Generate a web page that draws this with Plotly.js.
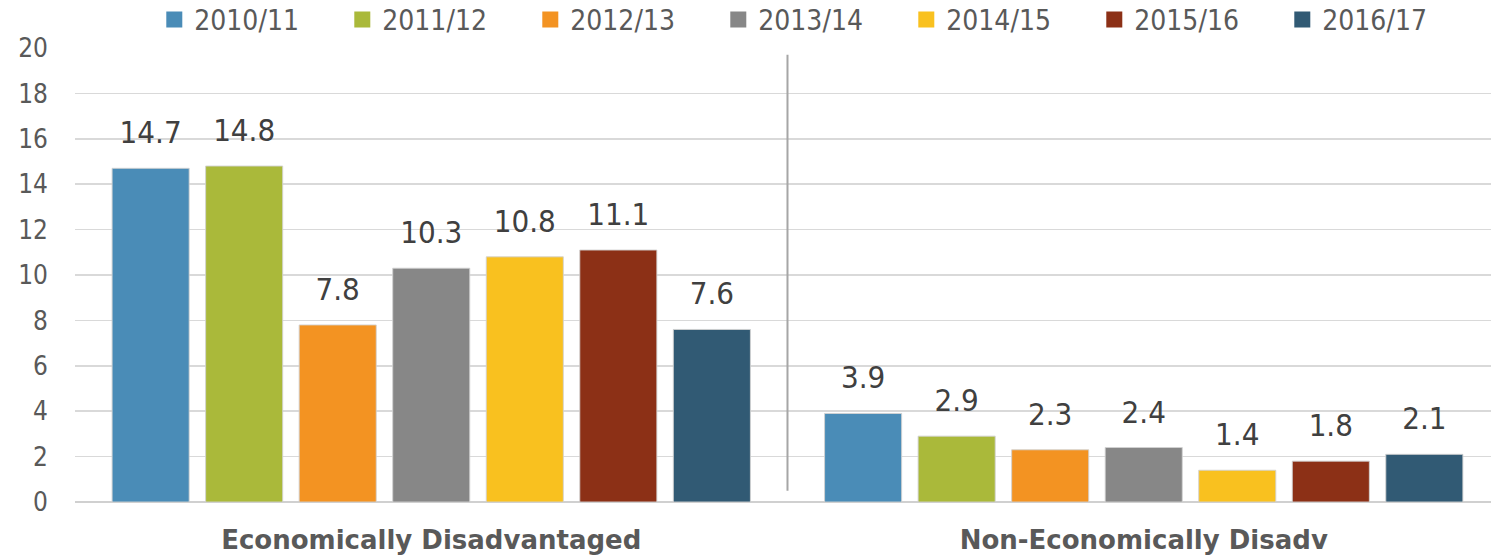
<!DOCTYPE html>
<html>
<head>
<meta charset="utf-8">
<script src="https://cdn.plot.ly/plotly-3.0.1.min.js"></script>
<style>html,body{margin:0;padding:0;background:#fff;}#chart{width:1491px;height:559px;}</style>
</head>
<body>
<div id="chart"></div>
<script>
const categories = ["Economically Disadvantaged", "Non-Economically Disadv"];
const seriesNames = ["2010/11", "2011/12", "2012/13", "2013/14", "2014/15", "2015/16", "2016/17"];
const v2010 = [14.7, 3.9];
const v2011 = [14.8, 2.9];
const v2012 = [7.8, 2.3];
const v2013 = [10.3, 2.4];
const v2014 = [10.8, 1.4];
const v2015 = [11.1, 1.8];
const v2016 = [7.6, 2.1];
const seriesValues = [v2010, v2011, v2012, v2013, v2014, v2015, v2016];
const colors = ["#4a8cb7", "#aab93a", "#f39322", "#878787", "#f9c11f", "#8c3016", "#315a74"];
const yTicks = [0, 2, 4, 6, 8, 10, 12, 14, 16, 18, 20];

const labelFont = "DejaVu Sans Condensed, DejaVu Sans, sans-serif";
const traces = [];
seriesNames.forEach((name, i) => {
  traces.push({
    type: "bar", x: categories, y: seriesValues[i], name: name,
    marker: {color: colors[i], line: {color: "rgba(210,210,210,0.9)", width: 1}},
    showlegend: false, hoverinfo: "skip", offsetgroup: "g" + i
  });
});
seriesNames.forEach((name, i) => {
  traces.push({
    type: "scatter", mode: "markers+text", x: categories, y: seriesValues[i],
    text: seriesValues[i].map(v => v.toFixed(1)), textposition: "top center",
    textfont: {family: labelFont, size: 31, color: "#404040"},
    marker: {size: 26, opacity: 0, color: colors[i]},
    showlegend: false, hoverinfo: "skip", cliponaxis: false, offsetgroup: "g" + i
  });
});
seriesNames.forEach((name, i) => {
  traces.push({
    type: "scatter", mode: "markers", x: [null], y: [null], name: name,
    marker: {symbol: "square", size: 16, color: colors[i]},
    showlegend: true, hoverinfo: "skip", offsetgroup: "g" + i
  });
});

const layout = {
  width: 1491, height: 559,
  margin: {l: 75, r: 0, t: 48, b: 57, autoexpand: false},
  paper_bgcolor: "#ffffff", plot_bgcolor: "#ffffff",
  barmode: "group", bargap: 0.081, bargroupgap: 0.176,
  scattermode: "group", scattergap: 0.081,
  showlegend: true,
  legend: {
    orientation: "h", x: 0.056, xanchor: "left", y: 1.062, yanchor: "middle",
    font: {family: "Liberation Sans Narrow, DejaVu Sans Condensed, sans-serif", size: 28, color: "#595959"},
    entrywidth: 143, entrywidthmode: "pixels", itemsizing: "trace",
    traceorder: "normal", bgcolor: "rgba(0,0,0,0)"
  },
  xaxis: {
    type: "category", range: [-0.5, 1.4874], fixedrange: true,
    showgrid: false, zeroline: false, showline: false, ticks: "",
    tickfont: {family: "DejaVu Sans, sans-serif", size: 26, color: "#595959", weight: "bold"},
    ticklabelstandoff: 20
  },
  yaxis: {
    range: [0, 20], tickvals: yTicks, ticktext: yTicks.map(String), fixedrange: true,
    showgrid: true, gridcolor: "#d9d9d9", gridwidth: 1.5,
    zeroline: true, zerolinecolor: "#d0d0d0", zerolinewidth: 2,
    showline: false, ticks: "",
    tickfont: {family: labelFont, size: 26, color: "#595959"},
    ticklabelstandoff: 26
  },
  shapes: [{
    type: "line", xref: "x", yref: "y", x0: 0.5, x1: 0.5, y0: 0.5, y1: 19.7,
    line: {color: "#a6a6a6", width: 2}
  }]
};
Plotly.newPlot("chart", traces, layout, {displayModeBar: false, staticPlot: true});
</script>
</body>
</html>
